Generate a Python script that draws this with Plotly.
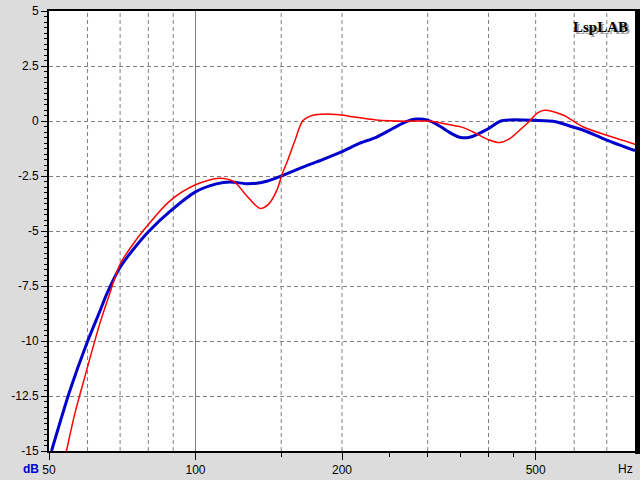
import math
import plotly.graph_objects as go

# ---- data ----
blue_freq = [50.6, 55.2, 59.8, 63.6, 65.6, 70.0, 74.4, 80.3, 88.5, 100.0,
             110.4, 117.6, 127.0, 133.6, 140.0, 148.9, 163.7, 183.0, 200.0, 217.6,
             235.0, 254.7, 271.0, 284.0, 300.0, 318.0, 331.0, 349.0, 366.0, 395.0,
             424.0, 443.0, 496.0, 550.0, 594.0, 625.0, 698.0, 800.0]
blue_db = [-15.0, -12.25, -10.1, -8.65, -7.9, -6.65, -5.85, -5.0, -4.12, -3.22,
           -2.86, -2.77, -2.85, -2.83, -2.74, -2.53, -2.15, -1.74, -1.39, -1.01,
           -0.74, -0.33, -0.03, 0.09, 0.04, -0.24, -0.49, -0.74, -0.74, -0.41,
           0.0, 0.05, 0.03, -0.03, -0.26, -0.41, -0.86, -1.35]

red_freq = [54.3, 56.5, 59.0, 63.6, 66.6, 70.0, 74.4, 78.0, 88.5, 100.0, 112.0, 120.0,
            127.0, 135.6, 141.0, 147.0, 150.5, 154.8, 160.0, 166.0, 173.0, 186.0, 195.0,
            214.0, 235.0, 271.0, 300.0, 318.0, 331.0, 355.0, 372.0, 400.0, 422.0,
            443.0, 464.0, 486.0, 503.0, 521.0, 569.0, 625.0, 698.0, 800.0]
red_db = [-15.0, -13.3, -11.77, -9.2, -7.86, -6.5, -5.6, -5.0, -3.64, -2.9, -2.6, -2.76,
          -3.36, -3.97, -3.8, -3.14, -2.45, -1.77, -0.9, 0.0, 0.24, 0.32, 0.29,
          0.17, 0.05, -0.01, 0.0, -0.08, -0.16, -0.3, -0.5, -0.85, -0.98,
          -0.79, -0.41, 0.0, 0.35, 0.49, 0.27, -0.26, -0.64, -1.06]

x_tick_vals = [50, 100, 200, 500]
x_tick_text = ["50", "100", "200", "500"]
x_minor_ticks = [150, 250, 300, 350, 400, 450]
x_grid_dashed = [60, 70, 80, 90, 150, 200, 300, 400, 500, 600, 700]
x_grid_solid = [100]
y_tick_vals = [5, 2.5, 0, -2.5, -5, -7.5, -10, -12.5, -15]
y_tick_text = ["5", "2.5", "0", "-2.5", "-5", "-7.5", "-10", "-12.5", "-15"]
x_range = [50, 800]
y_range = [-15, 5]

GRID = "#808080"
DASH = "4px,3px"


def vlines(freqs):
    xs, ys = [], []
    for f in freqs:
        xs += [f, f, None]
        ys += [y_range[0], y_range[1], None]
    return xs, ys


fig = go.Figure()

gx, gy = vlines(x_grid_dashed)
fig.add_trace(go.Scatter(x=gx, y=gy, mode="lines", hoverinfo="skip",
                         line=dict(color=GRID, width=1, dash=DASH)))
sx, sy = vlines(x_grid_solid)
fig.add_trace(go.Scatter(x=sx, y=sy, mode="lines", hoverinfo="skip",
                         line=dict(color=GRID, width=1)))

fig.add_trace(go.Scatter(x=blue_freq, y=blue_db, mode="lines", name="blue",
                         line=dict(color="#0000CC", width=3, shape="spline", smoothing=0.8)))
fig.add_trace(go.Scatter(x=red_freq, y=red_db, mode="lines", name="red",
                         line=dict(color="#FF0000", width=1.5, shape="spline", smoothing=0.8)))

tickfont = dict(family="Liberation Sans, Arial", size=12, color="black")

fig.update_layout(
    width=640, height=480,
    margin=dict(l=49, r=5, t=11, b=29, autoexpand=False),
    paper_bgcolor="#DCDCDC",
    plot_bgcolor="white",
    showlegend=False,
    hovermode=False,
    xaxis=dict(
        type="log", automargin=False,
        range=[math.log10(x_range[0]), math.log10(x_range[1])],
        tickmode="array", tickvals=x_tick_vals, ticktext=x_tick_text,
        showgrid=False, zeroline=False,
        showline=True, linecolor="black", linewidth=2, mirror=True,
        ticks="outside", ticklen=7, tickwidth=1, tickcolor="black",
        tickfont=tickfont,
        minor=dict(tickmode="array", tickvals=x_minor_ticks, ticks="outside",
                   ticklen=4, tickwidth=1, tickcolor="black", showgrid=False),
    ),
    yaxis=dict(
        range=y_range, automargin=False,
        tickmode="array", tickvals=y_tick_vals, ticktext=y_tick_text,
        showgrid=True, gridcolor=GRID, gridwidth=1, griddash=DASH,
        zeroline=False,
        showline=True, linecolor="black", linewidth=2, mirror=True,
        ticks="outside", ticklen=6, tickwidth=1, tickcolor="black",
        tickfont=tickfont,
        minor=dict(tickmode="linear", tick0=0, dtick=0.25, ticks="outside",
                   ticklen=3, tickwidth=1, tickcolor="black", showgrid=False),
    ),
    shapes=[
        dict(type="rect", xref="paper", yref="paper",
             x0=1.0, x1=1.0 + 6 / 586, y0=-3 / 440, y1=1.0 + 2 / 440,
             fillcolor="black", line=dict(width=0), layer="above"),
    ],
    annotations=[
        dict(text="<b>dB</b>", xref="paper", yref="paper", x=0, y=0,
             xanchor="right", yanchor="top", xshift=-8, yshift=-9, showarrow=False,
             font=dict(family="Liberation Sans, Arial", size=12, color="#0000CC")),
        dict(text="Hz", xref="paper", yref="paper", x=1, y=0,
             xanchor="right", yanchor="top", xshift=0, yshift=-9, showarrow=False,
             font=dict(family="Liberation Sans, Arial", size=12, color="black")),
        dict(text="<b>LspLAB</b>", xref="paper", yref="paper", x=1, y=1,
             xanchor="right", yanchor="top", xshift=-3, yshift=-8, showarrow=False,
             font=dict(family="Liberation Serif, Times New Roman", size=15, color="#A0A0A0")),
        dict(text="<b>LspLAB</b>", xref="paper", yref="paper", x=1, y=1,
             xanchor="right", yanchor="top", xshift=-5, yshift=-6, showarrow=False,
             font=dict(family="Liberation Serif, Times New Roman", size=15, color="black")),
    ],
)

fig.write_html("out.html",
               config={"displayModeBar": False, "staticPlot": True},
               post_script="document.body.style.margin='0';document.body.style.overflow='hidden';")
